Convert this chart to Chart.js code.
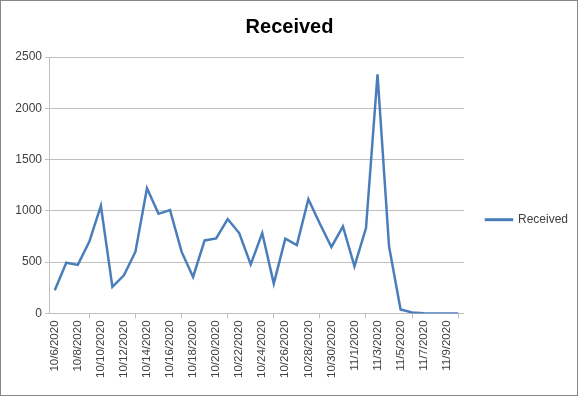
<!DOCTYPE html>
<html>
<head>
<meta charset="utf-8">
<script src="https://cdn.jsdelivr.net/npm/chart.js@4/dist/chart.umd.min.js"></script>
<style>
  body { margin: 0; background: #fff; }
  #wrap { width: 576px; height: 394px; border: 1px solid #868686; }
</style>
</head>
<body>
<div id="wrap"><canvas id="receivedChart" width="576" height="394"></canvas></div>
<script>
const dates = [
    "10/6/2020", "10/7/2020", "10/8/2020", "10/9/2020", "10/10/2020", "10/11/2020",
    "10/12/2020", "10/13/2020", "10/14/2020", "10/15/2020", "10/16/2020", "10/17/2020",
    "10/18/2020", "10/19/2020", "10/20/2020", "10/21/2020", "10/22/2020", "10/23/2020",
    "10/24/2020", "10/25/2020", "10/26/2020", "10/27/2020", "10/28/2020", "10/29/2020",
    "10/30/2020", "10/31/2020", "11/1/2020", "11/2/2020", "11/3/2020", "11/4/2020",
    "11/5/2020", "11/6/2020", "11/7/2020", "11/8/2020", "11/9/2020", "11/10/2020"
];
const received = [
    227, 495, 473, 700, 1049, 259, 372, 602, 1221, 971, 1007, 602,
    356, 712, 732, 920, 784, 479, 784, 291, 729, 667, 1114, 874,
    648, 848, 460, 832, 2332, 654, 39, 10, 2, 0, 0, 0
];
const yTicks = [0, 500, 1000, 1500, 2000, 2500];

const font = "'Liberation Sans', Arial, sans-serif";

new Chart(document.getElementById('receivedChart'), {
    type: 'line',
    data: {
        labels: dates,
        datasets: [{
            label: 'Received',
            data: received,
            borderColor: '#4a7ebb',
            backgroundColor: '#4a7ebb',
            borderWidth: 2.5,
            pointRadius: 0,
            tension: 0,
            fill: false
        }]
    },
    options: {
        responsive: false,
        animation: false,
        layout: { padding: { top: 14, right: -1, left: 0, bottom: 15 } },
        plugins: {
            title: {
                display: true,
                text: 'Received',
                color: '#000',
                font: { family: font, size: 20, weight: 'bold' },
                padding: { top: 0, bottom: 18 }
            },
            legend: {
                position: 'right',
                title: {
                    display: true,
                    text: '',
                    font: { family: font, size: 12 },
                    padding: { top: 0, bottom: 30 }
                },
                labels: {
                    boxWidth: 26,
                    boxHeight: 0.5,
                    color: '#404040',
                    font: { family: font, size: 12 },
                    padding: 22
                }
            },
            tooltip: { enabled: false }
        },
        scales: {
            x: {
                offset: true,
                grid: {
                    offset: true,
                    drawOnChartArea: false,
                    drawTicks: true,
                    tickLength: 5,
                    color: '#bfbfbf'
                },
                border: { color: '#bfbfbf' },
                ticks: {
                    autoSkip: true,
                    maxTicksLimit: 18,
                    maxRotation: 90,
                    minRotation: 90,
                    color: '#404040',
                    font: { family: font, size: 11.5 },
                    padding: 2
                }
            },
            y: {
                min: 0,
                max: 2500,
                afterBuildTicks: scale => {
                    scale.ticks = yTicks.map(v => ({ value: v }));
                },
                afterFit: scale => { scale.width = 48; },
                grid: { color: '#bfbfbf', tickLength: 4 },
                border: { color: '#bfbfbf' },
                ticks: {
                    color: '#404040',
                    font: { family: font, size: 12 },
                    padding: 3,
                    callback: v => String(v)
                }
            }
        }
    }
});
</script>
</body>
</html>
